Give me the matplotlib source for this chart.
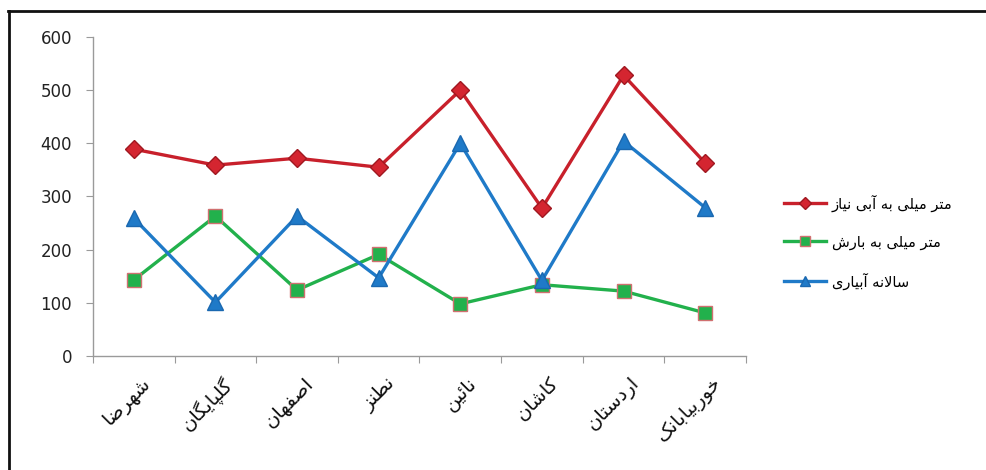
import matplotlib
matplotlib.use("Agg")
import matplotlib.pyplot as plt
from matplotlib.lines import Line2D

categories = ["شهرضا", "گلپایگان", "اصفهان", "نطنز", "نائین", "کاشان", "اردستان", "خوربیابانک"]
series_names = ["نیاز آبی به میلی متر", "بارش به میلی متر", "آبیاری سالانه"]
water_need = [389, 359, 372, 355, 500, 278, 528, 363]
rainfall = [143, 263, 124, 191, 98, 134, 122, 81]
irrigation = [259, 101, 263, 147, 400, 142, 404, 279]
yticks = [0, 100, 200, 300, 400, 500, 600]

# --- minimal Arabic/Persian shaping (presentation forms) ---
FORMS = {
    'ا': (0xFE8D, 0xFE8E, None, None),
    'آ': (0xFE81, 0xFE82, None, None),
    'ب': (0xFE8F, 0xFE90, 0xFE91, 0xFE92),
    'ت': (0xFE95, 0xFE96, 0xFE97, 0xFE98),
    'ث': (0xFE99, 0xFE9A, 0xFE9B, 0xFE9C),
    'ج': (0xFE9D, 0xFE9E, 0xFE9F, 0xFEA0),
    'ح': (0xFEA1, 0xFEA2, 0xFEA3, 0xFEA4),
    'خ': (0xFEA5, 0xFEA6, 0xFEA7, 0xFEA8),
    'د': (0xFEA9, 0xFEAA, None, None),
    'ذ': (0xFEAB, 0xFEAC, None, None),
    'ر': (0xFEAD, 0xFEAE, None, None),
    'ز': (0xFEAF, 0xFEB0, None, None),
    'س': (0xFEB1, 0xFEB2, 0xFEB3, 0xFEB4),
    'ش': (0xFEB5, 0xFEB6, 0xFEB7, 0xFEB8),
    'ص': (0xFEB9, 0xFEBA, 0xFEBB, 0xFEBC),
    'ض': (0xFEBD, 0xFEBE, 0xFEBF, 0xFEC0),
    'ط': (0xFEC1, 0xFEC2, 0xFEC3, 0xFEC4),
    'ظ': (0xFEC5, 0xFEC6, 0xFEC7, 0xFEC8),
    'ع': (0xFEC9, 0xFECA, 0xFECB, 0xFECC),
    'غ': (0xFECD, 0xFECE, 0xFECF, 0xFED0),
    'ف': (0xFED1, 0xFED2, 0xFED3, 0xFED4),
    'ق': (0xFED5, 0xFED6, 0xFED7, 0xFED8),
    'ل': (0xFEDD, 0xFEDE, 0xFEDF, 0xFEE0),
    'م': (0xFEE1, 0xFEE2, 0xFEE3, 0xFEE4),
    'ن': (0xFEE5, 0xFEE6, 0xFEE7, 0xFEE8),
    'ه': (0xFEE9, 0xFEEA, 0xFEEB, 0xFEEC),
    'و': (0xFEED, 0xFEEE, None, None),
    'ئ': (0xFE89, 0xFE8A, 0xFE8B, 0xFE8C),
    'پ': (0xFB56, 0xFB57, 0xFB58, 0xFB59),
    'چ': (0xFB7A, 0xFB7B, 0xFB7C, 0xFB7D),
    'ژ': (0xFB8A, 0xFB8B, None, None),
    'ک': (0xFB8E, 0xFB8F, 0xFB90, 0xFB91),
    'گ': (0xFB92, 0xFB93, 0xFB94, 0xFB95),
    'ی': (0xFBFC, 0xFBFD, 0xFBFE, 0xFBFF),
}
LAM_ALEF = {'ا': (0xFEFB, 0xFEFC), 'آ': (0xFEF5, 0xFEF6)}


def dual(c):
    return c in FORMS and FORMS[c][2] is not None


def shape(text):
    chars = list(text)
    out = []
    i = 0
    n = len(chars)
    while i < n:
        c = chars[i]
        if c not in FORMS:
            out.append(c)
            i += 1
            continue
        prev_join = i > 0 and dual(chars[i - 1])
        if c == 'ل' and i + 1 < n and chars[i + 1] in LAM_ALEF:
            iso, fin = LAM_ALEF[chars[i + 1]]
            out.append(chr(fin if prev_join else iso))
            i += 2
            continue
        next_join = dual(c) and i + 1 < n and chars[i + 1] in FORMS
        iso, fin, ini, med = FORMS[c]
        if prev_join and next_join:
            code = med
        elif prev_join:
            code = fin
        elif next_join:
            code = ini
        else:
            code = iso
        out.append(chr(code))
        i += 1
    return ''.join(out)


def word_rtl(text):
    # each word shaped right-to-left; words kept in the order seen in the reference
    return ' '.join(shape(w)[::-1] for w in text.split(' '))


plt.rcParams['font.family'] = ['DejaVu Sans']

fig = plt.figure(figsize=(9.86, 4.70), dpi=100)
ax = fig.add_axes([0.0943, 0.2426, 0.6623, 0.6787])

x = list(range(len(categories)))
red = '#C8202B'
green = '#22B14C'
blue = '#1F7AC8'

l1, = ax.plot(x, water_need, color=red, lw=2.4, marker='D', ms=9,
              mfc='#D42530', mec='#A01820', zorder=3)
l2, = ax.plot(x, rainfall, color=green, lw=2.4, marker='s', ms=10,
              mfc='#22B14C', mec='#D07070', mew=1.0, zorder=3)
l3, = ax.plot(x, irrigation, color=blue, lw=2.4, marker='^', ms=11,
              mfc='#1F7AC8', mec='#1A68B0', zorder=3)

ax.set_xlim(-0.5, len(categories) - 0.5)
ax.set_ylim(0, 600)
ax.set_yticks(yticks)
ax.set_yticklabels([str(v) for v in yticks], fontsize=12, color='#222222')
ax.tick_params(axis='y', length=5, color='#9a9a9a', pad=10)

ax.set_xticks([i - 0.5 for i in range(len(categories) + 1)])
ax.set_xticklabels([])
ax.tick_params(axis='x', length=5, color='#9a9a9a')
for i, cat in enumerate(categories):
    ax.text(i + 0.08, -0.055, word_rtl(cat), transform=ax.get_xaxis_transform(),
            rotation=45, ha='right', va='top', fontsize=14,
            rotation_mode='anchor', color='#111111')

for side in ['top', 'right']:
    ax.spines[side].set_visible(False)
for side in ['left', 'bottom']:
    ax.spines[side].set_color('#9a9a9a')
    ax.spines[side].set_linewidth(1.0)

handles = [l1, l2, l3]
leg = fig.legend(handles, [word_rtl(s) for s in series_names], loc='center left',
                 bbox_to_anchor=(0.782, 0.485), frameon=False, fontsize=10.5,
                 handlelength=2.9, labelspacing=1.55, handletextpad=0.35,
                 markerscale=0.7)

# outer frame (top and left)
fig.add_artist(Line2D([0.008, 1.0], [0.977, 0.977], transform=fig.transFigure,
                      color='#111111', lw=2.0))
fig.add_artist(Line2D([0.009, 0.009], [0.0, 0.977], transform=fig.transFigure,
                      color='#111111', lw=2.0))

fig.savefig('out.png', dpi=100)
